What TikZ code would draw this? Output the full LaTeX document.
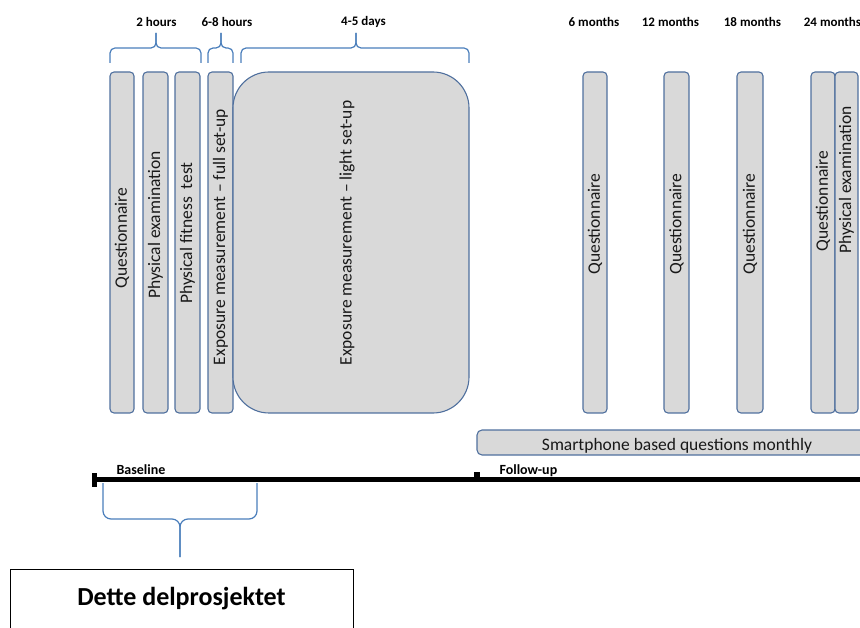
\documentclass[tikz,border=0pt]{standalone}
\usepackage{fontspec}
\setmainfont{Carlito}
\usetikzlibrary{positioning}
\usepackage{xcolor}

\definecolor{boxfill}{HTML}{D9D9D9}
\definecolor{boxline}{HTML}{50709E}
\definecolor{braceblue}{HTML}{4A7EBB}

% brace: left x, right x, tip x, end y, flat y, tip y
\newcommand{\wbrace}[6]{%
    \draw[braceline] (#1,#4) -- (#1,#5) -- (#3,#5) -- (#3,#6);
    \draw[braceline] (#2,#4) -- (#2,#5) -- (#3,#5) -- (#3,#6);
}

\begin{document}
\begin{tikzpicture}[x=1pt,y=-1pt,
    vbox/.style={draw=boxline, fill=boxfill, line width=1.1pt, rounded corners=4pt,
        minimum height=341pt, inner sep=0pt},
    vtext/.style={rotate=90, text=black!90, font=\fontsize{17.5}{20}\selectfont},
    toplabel/.style={font=\bfseries\fontsize{13}{15}\selectfont},
    phase/.style={anchor=base west, font=\bfseries\fontsize{14}{16}\selectfont},
    braceline/.style={draw=braceblue, line width=1.2pt, rounded corners=5pt}]

    \useasboundingbox (0,0) rectangle (860,628);
    \clip (0,0) rectangle (860,628);

    \node[toplabel] (h2) at (156.5,22) {2 hours};
    \node[toplabel] (h68) at (227,22) {6-8 hours};
    \node[toplabel] (d45) at (363.5,22) {4-5 days};
    \node[toplabel] (m6) at (594,22) {6 months};
    \node[toplabel] (m12) at (670.5,22) {12 months};
    \node[toplabel] (m18) at (752.5,22) {18 months};
    \node[toplabel] (m24) at (832.5,22) {24 months};

    \wbrace{110}{201}{156}{63}{48}{33}
    \wbrace{208}{233}{221}{63}{48}{33}
    \wbrace{241}{469}{356}{63}{48}{33}

    \node[vbox, minimum width=24pt] (q1) at (122,242.5) {};
    \node[vbox, minimum width=25pt] (pe1) at (155.5,242.5) {};
    \node[vbox, minimum width=25pt] (pft1) at (187.5,242.5) {};
    \node[vbox, minimum width=25pt] (exf) at (220.5,242.5) {};
    \node[vbox, minimum width=236pt, rounded corners=36pt] (exl) at (351,242.5) {};
    \node[vbox, minimum width=24pt] (q6) at (595,242.5) {};
    \node[vbox, minimum width=25pt] (q12) at (676.5,242.5) {};
    \node[vbox, minimum width=26pt] (q18) at (750,242.5) {};
    \node[vbox, minimum width=24pt] (q24) at (823,242.5) {};
    \node[vbox, minimum width=23pt] (pe24) at (846.5,242.5) {};

    \node[vtext] (q1t) at (122,238) {Questionnaire};
    \node[vtext] (pe1t) at (155.5,225) {Physical examination};
    \node[vtext] (pft1t) at (187.5,233) {Physical fitness\ \ test};
    \node[vtext] (exft) at (220.5,237) {Exposure measurement -- full set-up};
    \node[vtext] (exlt) at (347,233) {Exposure measurement -- light set-up};
    \node[vtext] (q6t) at (595,224) {Questionnaire};
    \node[vtext] (q12t) at (676.5,224) {Questionnaire};
    \node[vtext] (q18t) at (750,224) {Questionnaire};
    \node[vtext] (q24t) at (823,201) {Questionnaire};
    \node[vtext] (pe24t) at (846.5,180) {Physical examination};

    \node[vbox, minimum height=25pt, minimum width=400pt, rounded corners=5pt] (sm) at (677,442.5) {};
    \node[anchor=base, text=black!90, font=\fontsize{17.5}{20}\selectfont] (smt) at (677,450.5) {Smartphone based questions monthly};

    % timeline
    \coordinate (t0) at (92,479.5);
    \coordinate (t1) at (870,479.5);
    \draw[line width=4.5pt] (t0) -- (t1);
    \fill (92,473) rectangle (97,487);
    \fill (474,472) rectangle (479.5,480);
    \node[phase] (base) at (113,474) {Baseline};
    \node[phase] (fup) at (496,474) {Follow-up};

    \begin{scope}[braceline/.append style={rounded corners=8pt}]
    \wbrace{103}{257}{180}{483}{519}{557}
    \end{scope}

    \node[draw, line width=0.8pt, minimum width=343pt, minimum height=80pt, anchor=north west] (dp) at (10,569) {};
    \node[anchor=base, font=\bfseries\fontsize{26}{30}\selectfont] (dpt) at (181.5,605) {Dette delprosjektet};

\end{tikzpicture}
\end{document}
